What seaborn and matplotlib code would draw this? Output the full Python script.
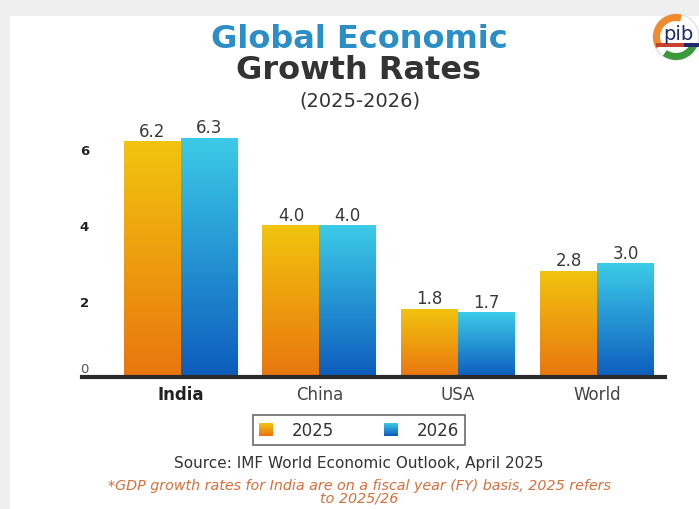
import numpy as np
import pandas as pd
import seaborn as sns
import matplotlib
matplotlib.use("Agg")
import matplotlib.pyplot as plt
from matplotlib.colors import LinearSegmentedColormap, to_rgb
from matplotlib.patches import Rectangle, Patch, Wedge, Circle
from matplotlib.legend_handler import HandlerBase
from matplotlib.transforms import ScaledTranslation

# ---------------- data ----------------
categories = ['India', 'China', 'USA', 'World']
years = ['2025', '2026']
growth_2025 = [6.2, 4.0, 1.8, 2.8]
growth_2026 = [6.3, 4.0, 1.7, 3.0]
y_ticks = [0, 2, 4, 6]

title_line1 = 'Global Economic'
title_line2 = 'Growth Rates'
subtitle = '(2025-2026)'
source_text = 'Source: IMF World Economic Outlook, April 2025'
footnote = '*GDP growth rates for India are on a fiscal year (FY) basis, 2025 refers\nto 2025/26'

# gradient colours (top, bottom)
grad_2025 = ('#f2c40e', '#e9760f')
grad_2026 = ('#3ccbe8', '#0d5cbd')

sns.set_style('white')
plt.rcParams['font.family'] = ['DejaVu Sans']

W, H = 699, 510
fig = plt.figure(figsize=(W / 100, H / 100), dpi=100, facecolor='#efefef')
fig.patches.append(Rectangle((10 / W, 0), 1, 1 - 17 / H, transform=fig.transFigure,
                             facecolor='white', edgecolor='none', zorder=-10))


def px(x, y):
    return x / W, 1 - y / H


ax = fig.add_axes([82 / W, (H - 378) / H, 583 / W, 250.8 / H])
ax.set_facecolor('none')

df = pd.DataFrame({
    'Country': categories * 2,
    'Year': [years[0]] * len(categories) + [years[1]] * len(categories),
    'Growth': growth_2025 + growth_2026,
})

sns.barplot(data=df, x='Country', y='Growth', hue='Year', order=categories,
            hue_order=years, palette=[grad_2025[0], grad_2026[0]], width=0.82,
            gap=0, saturation=1, legend=False, errorbar=None, ax=ax)

grad = np.linspace(0, 1, 256).reshape(-1, 1)
for cont, (top, bot) in zip(ax.containers, [grad_2025, grad_2026]):
    cmap = LinearSegmentedColormap.from_list('g', [bot, top])
    for bar in cont:
        x0, w, h = bar.get_x(), bar.get_width(), bar.get_height()
        im = ax.imshow(grad, cmap=cmap, aspect='auto', origin='lower',
                       extent=[x0, x0 + w, 0, h], zorder=bar.get_zorder(),
                       interpolation='bilinear')
        im.set_clip_path(bar)
        bar.set_facecolor('none')
        bar.set_edgecolor('none')
    ax.bar_label(cont, fmt='%.1f', padding=1, fontsize=12, color='#3a3a3a')

ax.set_xlim(-0.71, 3.49)
ax.set_ylim(0, 6.6)
ax.set_xlabel('')
ax.set_ylabel('')
for s in ['left', 'right', 'top']:
    ax.spines[s].set_visible(False)
ax.spines['bottom'].set_color('#2a2a2a')
ax.spines['bottom'].set_linewidth(3)
ax.spines['bottom'].set_zorder(5)

ax.set_xticks(range(len(categories)), categories)
ax.tick_params(axis='x', length=0, pad=6, labelsize=12, labelcolor='#444444')
for lbl in ax.get_xticklabels():
    if lbl.get_text() == 'India':
        lbl.set_fontweight('bold')
        lbl.set_color('#222222')

ax.set_yticks(y_ticks, [str(v) for v in y_ticks])
ax.tick_params(axis='y', length=0, pad=-5, labelsize=9.5)
for lbl in ax.get_yticklabels():
    if lbl.get_text() == '0':
        lbl.set_color('#555555')
        lbl.set_transform(lbl.get_transform() + ScaledTranslation(0, 10 / 100, fig.dpi_scale_trans))
    else:
        lbl.set_fontweight('bold')
        lbl.set_color('#222222')
ax.grid(False)

# ---------------- titles ----------------
fig.text(*px(359, 40), title_line1, ha='center', va='center', fontsize=23,
         fontweight='bold', color='#2b8ec6')
fig.text(*px(359, 71), title_line2, ha='center', va='center', fontsize=23,
         fontweight='bold', color='#333333')
fig.text(*px(360, 101), subtitle, ha='center', va='center', fontsize=14,
         color='#333333')


# ---------------- legend ----------------
class GradHandler(HandlerBase):
    def __init__(self, top, bottom, n=16):
        super().__init__()
        self.top, self.bottom, self.n = top, bottom, n

    def create_artists(self, legend, orig_handle, xdescent, ydescent, width,
                       height, fontsize, trans):
        c0 = np.array(to_rgb(self.bottom))
        c1 = np.array(to_rgb(self.top))
        arts = []
        for i in range(self.n):
            f = i / (self.n - 1)
            r = Rectangle((-xdescent, -ydescent + height * i / self.n), width,
                          height / self.n * 1.08, facecolor=c0 + (c1 - c0) * f,
                          edgecolor='none', transform=trans)
            arts.append(r)
        return arts


h1, h2 = Patch(), Patch()
leg = fig.legend(handles=[h1, h2], labels=years,
                 handler_map={h1: GradHandler(*grad_2025), h2: GradHandler(*grad_2026)},
                 loc='center', bbox_to_anchor=px(359, 431), ncol=2, fontsize=12,
                 frameon=True, fancybox=False, edgecolor='#444444',
                 handlelength=0.85, handleheight=0.85, handletextpad=1.1,
                 columnspacing=3.0, borderpad=0.35)
leg.get_frame().set_linewidth(1.2)
for t in leg.get_texts():
    t.set_color('#333333')

# ---------------- source & footnote ----------------
fig.text(*px(359, 464), source_text, ha='center', va='center', fontsize=11,
         color='#333333')
fig.text(*px(359, 479), footnote, ha='center', va='top', fontsize=10.3,
         style='italic', color='#d4703c', linespacing=0.9)

# ---------------- logo ----------------
lax = fig.add_axes([644 / W, 1 - 64 / H, 55 / W, 54 / H])
lax.set_xlim(644, 699)
lax.set_ylim(64, 10)
lax.axis('off')
cx, cy, r = 676, 38, 23
lax.add_patch(Circle((cx, cy), r, facecolor='white', edgecolor='#dddddd', lw=0.8))
lax.add_patch(Wedge((cx, cy), r, 150, 285, width=7, facecolor='#f08a2c', edgecolor='none'))
lax.add_patch(Wedge((cx, cy), r, 20, 125, width=7, facecolor='#3a9a3a', edgecolor='none'))
lax.text(cx + 2, cy - 4, 'pib', ha='center', va='center', fontsize=14,
         color='#1d2a6b')
lax.add_patch(Rectangle((656, 44), 28, 4, facecolor='#c8402e', edgecolor='none'))
lax.add_patch(Rectangle((684, 44), 15, 4, facecolor='#1d2a6b', edgecolor='none'))

fig.savefig('out.png', dpi=100, facecolor=fig.get_facecolor())
